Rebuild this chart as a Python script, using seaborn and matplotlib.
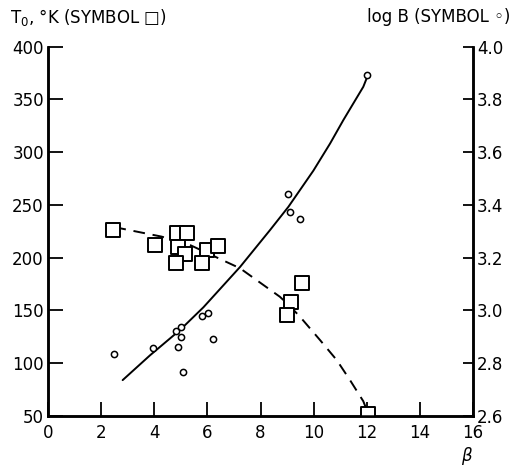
import matplotlib
matplotlib.use("Agg")
import matplotlib.pyplot as plt
import seaborn as sns
import pandas as pd

# Squares: T0 (K) vs beta
sq_beta = [2.46, 4.03, 4.85, 5.22, 4.91, 5.16, 4.82, 5.98, 6.39, 5.79, 9.57, 9.14, 9.01, 12.06]
sq_T0 = [226, 212, 223, 223, 210, 204, 195, 207, 211, 195, 176, 158, 146, 52]

# Circles: log B vs beta
ci_beta = [2.50, 3.96, 4.82, 5.00, 5.00, 4.91, 5.08, 5.79, 6.01, 6.20, 12.02, 9.05, 9.11, 9.49]
ci_logB = [2.834, 2.859, 2.924, 2.936, 2.899, 2.861, 2.768, 2.980, 2.990, 2.891, 3.894, 3.442, 3.375, 3.346]

# Dashed curve (through squares)
dash_beta = [2.5, 4.28, 5.35, 7.23, 8.73, 9.11, 9.49, 10.24, 10.87, 11.37, 11.87, 11.98]
dash_T0 = [229, 220, 212, 190, 163, 154, 144, 122, 103, 84, 64, 57]

# Solid curve (through circles)
sol_beta = [2.81, 3.84, 4.97, 5.85, 7.23, 8.36, 9.05, 9.99, 10.62, 11.12, 11.87, 12.02]
sol_logB = [2.736, 2.830, 2.926, 3.012, 3.165, 3.305, 3.393, 3.530, 3.633, 3.722, 3.848, 3.886]

x_ticks = [0, 2, 4, 6, 8, 10, 12, 14, 16]
left_ticks = [50, 100, 150, 200, 250, 300, 350, 400]
right_ticks = [2.6, 2.8, 3.0, 3.2, 3.4, 3.6, 3.8, 4.0]

sns.set_style("white")
plt.rcParams['font.family'] = ['DejaVu Sans']
plt.rcParams['text.color'] = 'black'
plt.rcParams['xtick.color'] = 'black'
plt.rcParams['ytick.color'] = 'black'
plt.rcParams['axes.edgecolor'] = 'black'

fig = plt.figure(figsize=(5.14, 4.71), dpi=100)
ax = fig.add_axes([48/514, 55/471, 425/514, 369.3/471])
ax2 = ax.twinx()

sq_df = pd.DataFrame({"beta": sq_beta, "T0": sq_T0})
ci_df = pd.DataFrame({"beta": ci_beta, "logB": ci_logB})
da_df = pd.DataFrame({"beta": dash_beta, "T0": dash_T0})
so_df = pd.DataFrame({"beta": sol_beta, "logB": sol_logB})

sns.lineplot(data=da_df, x="beta", y="T0", ax=ax, sort=False, color="black",
             linewidth=1.4, zorder=2)
ax.lines[-1].set_dashes([6, 4])
sns.scatterplot(data=sq_df, x="beta", y="T0", ax=ax, marker="s", s=110,
                facecolor="white", edgecolor="black", linewidth=1.4, zorder=3)

sns.lineplot(data=so_df, x="beta", y="logB", ax=ax2, sort=False, color="black",
             linewidth=1.4, zorder=2)
sns.scatterplot(data=ci_df, x="beta", y="logB", ax=ax2, marker="o", s=20,
                facecolor="white", edgecolor="black", linewidth=1.1, zorder=3)

ax.set_xlim(0, 16)
ax.set_ylim(50, 400)
ax2.set_ylim(2.6, 4.0)
ax.set_xticks(x_ticks)
ax.set_xticklabels([str(t) for t in x_ticks])
ax.set_yticks(left_ticks)
ax.set_yticklabels([str(t) for t in left_ticks])
ax2.set_yticks(right_ticks)
ax2.set_yticklabels([f"{t:.1f}" for t in right_ticks])

for a in (ax, ax2):
    a.set_xlabel("")
    a.set_ylabel("")
    for sp in a.spines.values():
        sp.set_linewidth(1.8)
        sp.set_color("black")
    a.spines["top"].set_visible(False)

ax.tick_params(axis="x", direction="in", length=10, width=1.3, labelsize=12, pad=6, colors="black")
ax.tick_params(axis="y", direction="in", length=11, width=1.3, labelsize=12, pad=3, colors="black")
ax2.tick_params(axis="y", direction="in", length=7, width=1.3, labelsize=12, pad=3, colors="black")
ax.tick_params(axis="y", left=True)
ax2.tick_params(axis="y", right=True)
ax.tick_params(axis="x", bottom=True)

fig.text(10/514, 1 - 17/471, "T$_0$, °K (SYMBOL □)", fontsize=12, ha="left", va="center", color="black")
fig.text(510/514, 1 - 17/471, "log B (SYMBOL ◦)", fontsize=12, ha="right", va="center", color="black")
fig.text(466/514, 1 - 456/471, "β", fontsize=12, style="italic", ha="center", va="center", color="black")

fig.savefig("out.png", dpi=100)
